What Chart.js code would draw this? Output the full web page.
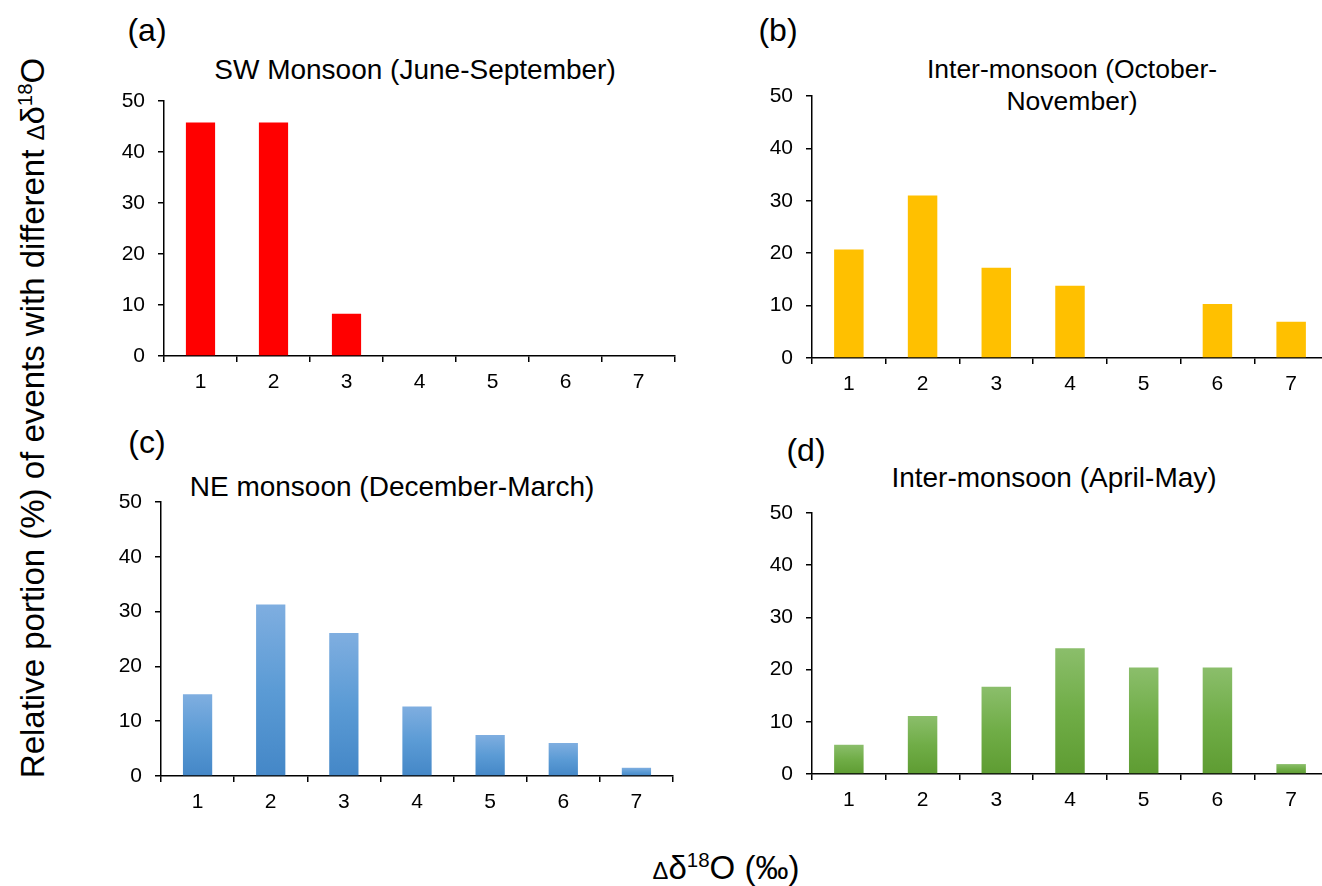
<!DOCTYPE html>
<html><head><meta charset="utf-8">
<script src="https://cdn.jsdelivr.net/npm/chart.js@4.4.1/dist/chart.umd.min.js"></script>
<style>
html,body{margin:0;padding:0;background:#fff;width:1322px;height:886px;overflow:hidden;position:relative;font-family:"Liberation Sans",Arial,sans-serif;color:#000}
.box{position:absolute}
.t{position:absolute;transform:translate(-50%,-50%);white-space:nowrap;line-height:1.2;text-align:center}
.sup{font-size:0.62em;position:relative;top:-0.6em}
.dl{font-size:0.72em}
</style></head><body>

<div class="t" style="left:147px;top:30px;font-size:32px">(a)</div>
<div class="t" style="left:415px;top:70px;font-size:28px">SW Monsoon (June-September)</div>
<div class="t" style="left:778px;top:30px;font-size:32px">(b)</div>
<div class="t" style="left:1072px;top:86px;font-size:26.5px">Inter-monsoon (October-<br>November)</div>
<div class="t" style="left:147px;top:442px;font-size:32px">(c)</div>
<div class="t" style="left:392px;top:487px;font-size:28px">NE monsoon (December-March)</div>
<div class="t" style="left:806px;top:450px;font-size:32px">(d)</div>
<div class="t" style="left:1054px;top:478px;font-size:28px">Inter-monsoon (April-May)</div>

<div class="t" style="left:33px;top:418px;transform:translate(-50%,-50%) rotate(-90deg);font-size:33px">Relative portion (%) of events with different <span class="dl">&Delta;</span>&delta;<span class="sup">18</span>O</div>
<div class="t" style="left:726px;top:868px;font-size:33px"><span class="dl">&Delta;</span>&delta;<span class="sup">18</span>O (&permil;)</div>

<script>
const categories = ['1', '2', '3', '4', '5', '6', '7'];
const swMonsoon = [45.8, 45.8, 8.3, 0, 0, 0, 0];
const interMonsoonOctNov = [20.7, 31.0, 17.2, 13.8, 0, 10.3, 6.9];
const neMonsoon = [14.9, 31.3, 26.1, 12.7, 7.5, 6.0, 1.5];
const interMonsoonAprMay = [5.6, 11.1, 16.7, 24.1, 20.4, 20.4, 1.9];
const yTicks = [0, 10, 20, 30, 40, 50];

const YW = 80, XH = 50, PT = 32, PR = 4;
const FONT = '"Liberation Sans", Arial, sans-serif';

function solid(c) { return () => c; }
function grad(top, mid, bottom) {
  return (ctx) => {
    const chart = ctx.chart;
    const ys = chart.scales && chart.scales.y;
    if (!chart.chartArea || !ys || ctx.type !== 'data') return mid;
    const y0 = ys.getPixelForValue(0), y1 = ys.getPixelForValue(ctx.raw);
    if (!(y0 > y1 + 0.5)) return mid;
    const g = chart.ctx.createLinearGradient(0, y1, 0, y0);
    g.addColorStop(0, top);
    g.addColorStop(0.5, mid);
    g.addColorStop(1, bottom);
    return g;
  };
}

const panels = [
  { data: swMonsoon, fill: solid('#FF0000'), L: 164, T: 101, R: 675, B: 356 },
  { data: interMonsoonOctNov, fill: solid('#FFC000'), L: 812, T: 96, R: 1328, B: 358 },
  { data: neMonsoon, fill: grad('#7FAEE0', '#5B9BD5', '#4487C7'), L: 161, T: 502, R: 673, B: 776 },
  { data: interMonsoonAprMay, fill: grad('#8BBE6B', '#70AD47', '#5E9C32'), L: 812, T: 513, R: 1328, B: 774 }
];

panels.forEach((p) => {
  const w = YW + (p.R - p.L) + PR;
  const h = PT + (p.B - p.T) + XH;
  const div = document.createElement('div');
  div.className = 'box';
  div.style.left = (p.L - YW) + 'px';
  div.style.top = (p.T - PT) + 'px';
  div.style.width = w + 'px';
  div.style.height = h + 'px';
  const cv = document.createElement('canvas');
  cv.width = w; cv.height = h;
  cv.style.width = w + 'px'; cv.style.height = h + 'px';
  div.appendChild(cv);
  document.body.appendChild(div);

  new Chart(cv, {
    type: 'bar',
    data: {
      labels: categories,
      datasets: [{
        data: p.data,
        backgroundColor: p.fill,
        borderWidth: 0,
        barPercentage: 0.4,
        categoryPercentage: 1.0
      }]
    },
    options: {
      responsive: false,
      devicePixelRatio: 1,
      animation: false,
      events: [],
      layout: { padding: { top: PT, right: PR, left: 0, bottom: 0 } },
      plugins: { legend: { display: false }, tooltip: { enabled: false }, title: { display: false } },
      scales: {
        x: {
          offset: true,
          grid: { display: true, drawOnChartArea: false, drawTicks: true, tickLength: 6, color: '#000', lineWidth: 1.5, offset: true },
          border: { display: true, color: '#000', width: 1.5 },
          ticks: { color: '#000', font: { family: FONT, size: 21 }, padding: 8, maxRotation: 0, autoSkip: false },
          afterFit: (s) => { s.height = XH; }
        },
        y: {
          min: 0, max: 50,
          grid: { display: true, drawOnChartArea: false, drawTicks: true, tickLength: 6, color: '#000', lineWidth: 1.5 },
          border: { display: true, color: '#000', width: 1.5 },
          ticks: { color: '#000', font: { family: FONT, size: 21 }, padding: 13, stepSize: 10 },
          afterBuildTicks: (s) => { s.ticks = yTicks.map(v => ({ value: v })); },
          afterFit: (s) => { s.width = YW; }
        }
      }
    }
  });
});
</script>
</body></html>
